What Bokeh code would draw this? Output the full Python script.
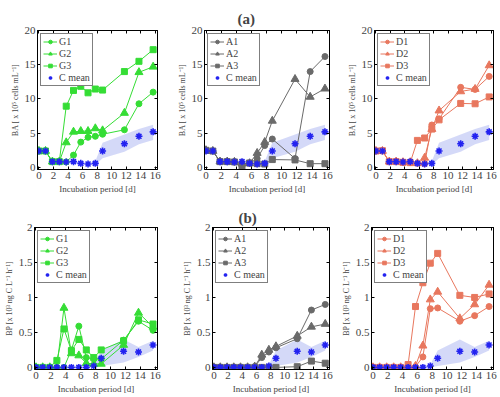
from bokeh.plotting import figure
from bokeh.layouts import column, row
from bokeh.models import Range1d, FixedTicker, Legend, LinearAxis
from bokeh.embed import file_html
from bokeh.resources import INLINE

# ---------------- data ----------------
t = [0, 0.9, 1.85, 2.8, 3.75, 4.75, 5.75, 6.75, 7.75, 8.75, 11.75, 13.75, 15.7]

# bacterial abundance (x 10^5 cells/mL)
G1_BA = [2.4, 2.4, 0.85, 0.85, 0.8, 1.8, 3.7, 4.4, 4.55, 4.85, 5.5, 9.3, 11.0]
G2_BA = [2.4, 2.4, 0.85, 0.85, 3.65, 5.2, 5.3, 5.3, 5.7, 5.4, 7.95, 13.9, 14.7]
G3_BA = [2.4, 2.4, 0.85, 0.85, 8.95, 11.25, 11.85, 10.9, 11.45, 11.3, 14.0, 15.5, 17.2]
A1_BA = [2.5, 2.4, 0.85, 0.85, 0.8, 0.55, 0.6, 1.3, 3.2, 4.15, 1.3, 14.0, 16.2]
A2_BA = [2.5, 2.4, 0.85, 0.85, 0.8, 0.55, 0.6, 2.1, 3.7, 6.8, 12.9, 10.3, 11.5]
A3_BA = [2.5, 2.4, 0.85, 0.85, 0.8, 0.05, 0.65, 0.55, 0.5, 1.15, 1.1, 0.55, 0.55]
D1_BA = [2.4, 2.4, 0.85, 0.85, 0.75, 0.75, 0.6, 0.55, 6.2, 7.1, 11.7, 11.4, 13.3]
D2_BA = [2.4, 2.4, 0.85, 0.85, 0.75, 0.75, 0.6, 1.4, 5.6, 8.3, 11.1, 11.45, 14.9]
D3_BA = [2.4, 2.45, 0.85, 0.85, 0.75, 0.7, 3.95, 4.3, 5.6, 6.95, 9.35, 9.3, 10.3]
C_BA = [2.4, 2.4, 0.85, 0.85, 0.8, 0.85, 0.6, 0.5, 0.6, 2.4, 3.45, 4.55, 5.2]
C_BA_lo = [2.35, 2.35, 0.8, 0.8, 0.75, 0.8, 0.55, 0.45, 0.4, 1.35, 2.3, 3.4, 4.0]
C_BA_hi = [2.45, 2.45, 0.9, 0.9, 0.85, 0.9, 0.65, 0.55, 0.9, 3.6, 4.8, 5.6, 6.25]

# bacterial production (x 10^3 ng C/L/h)
G1_BP = [0, 0, 0, 0, 0.0, 0.25, 0.59, 0.14, 0.12, 0.12, 0.39, 0.66, 0.53]
G2_BP = [0, 0, 0, 0, 0.85, 0.2, 0.17, 0.06, 0.05, 0.05, 0.32, 0.78, 0.58]
G3_BP = [0, 0, 0, 0.1, 0.55, 0.24, 0.4, 0.25, 0.14, 0.25, 0.38, 0.68, 0.62]
A1_BP = [0, 0, 0, 0, 0, 0, 0.01, 0.14, 0.22, 0.28, 0.41, 0.82, 0.9]
A2_BP = [0, 0, 0, 0, 0, 0, 0.01, 0.18, 0.25, 0.3, 0.45, 0.58, 0.62]
A3_BP = [0, 0, 0, 0, 0, 0, 0, 0, 0, 0, 0.01, 0.09, 0.06]
D1_BP = [0, 0, 0, 0, 0, 0.01, 0.01, 0.15, 0.84, 0.85, 0.66, 0.74, 0.87]
D2_BP = [0, 0, 0, 0, 0, 0.01, 0.02, 0.31, 0.97, 1.08, 0.7, 0.9, 1.18]
D3_BP = [0, 0, 0, 0, 0, 0.04, 0.87, 1.21, 1.49, 1.63, 1.03, 1.0, 1.05]
C_BP = [0, 0, 0, 0, 0, 0, 0, 0, 0.02, 0.13, 0.23, 0.22, 0.32]
C_BP_lo = [0, 0, 0, 0, 0, 0, 0, 0, 0.0, 0.02, 0.07, 0.15, 0.24]
C_BP_hi = [0, 0, 0, 0, 0, 0, 0, 0, 0.04, 0.24, 0.4, 0.29, 0.38]

x_ticks = [0, 2, 4, 6, 8, 10, 12, 14, 16]
ba_ticks = [0, 5, 10, 15, 20]
bp_ticks = [0, 0.5, 1, 1.5, 2]

BA_LABEL = "BA [ x 10\u2075 cells mL\u207b\u00b9]"
BP_LABEL = "BP [x 10\u00b3 ng C L\u207b\u00b9 h\u207b\u00b9]"
X_LABEL = "Incubation period [d]"

FONT = "Liberation Serif"
GREEN = "#35dd35"
GRAY = "#6a6a6a"
SALMON = "#e8775e"
BLUE = "#2323f0"
BAND = "#c9cff6"


def style_axis(ax):
    ax.major_tick_in = 3
    ax.major_tick_out = 0
    ax.minor_tick_line_color = None
    ax.axis_line_color = "black"
    ax.major_label_text_font = FONT
    ax.major_label_text_font_size = "11px"
    ax.major_label_standoff = 2
    ax.axis_label_text_font = FONT
    ax.axis_label_text_font_style = "normal"
    ax.axis_label_standoff = 2


def make_fig(series, names, color, c_mean, c_lo, c_hi, yr, yticks, ylabel,
             width, height, bl, br, bt, bb, title=None, title_offset=0,
             title_standoff=3):
    p = figure(width=width, height=height, output_backend="svg",
               toolbar_location=None, x_range=Range1d(-0.2, 16.3),
               y_range=Range1d(*yr), min_border_left=bl, min_border_right=br,
               min_border_top=bt, min_border_bottom=bb,
               outline_line_color="black", outline_line_width=1)
    p.background_fill_color = "white"
    p.border_fill_color = "white"
    p.xgrid.visible = False
    p.ygrid.visible = False
    style_axis(p.xaxis[0])
    style_axis(p.yaxis[0])
    p.xaxis[0].ticker = FixedTicker(ticks=x_ticks)
    p.yaxis[0].ticker = FixedTicker(ticks=yticks)
    p.xaxis[0].axis_label = X_LABEL
    p.xaxis[0].axis_label_text_font_size = "9px"
    p.yaxis[0].axis_label = ylabel
    p.yaxis[0].axis_label_text_font_size = "8px"

    # box ticks on the right and top (MATLAB style)
    for loc, ticks in (("right", yticks), ("above", x_ticks)):
        ax = LinearAxis(ticker=FixedTicker(ticks=ticks))
        ax.major_tick_in = 3
        ax.major_tick_out = 0
        ax.minor_tick_line_color = None
        ax.major_label_text_font_size = "0px"
        ax.major_label_text_color = None
        ax.major_label_standoff = 0
        ax.axis_line_color = "black"
        p.add_layout(ax, loc)

    p.varea(x=t, y1=c_lo, y2=c_hi, fill_color=BAND, fill_alpha=0.8)

    markers = ["circle", "triangle", "square"]
    sizes = [6, 8, 6]
    items = []
    for ys, name, mk, sz in zip(series, names, markers, sizes):
        l = p.line(t, ys, line_color=color, line_width=1)
        s = p.scatter(t, ys, marker=mk, size=sz, fill_color=color,
                      line_color=color)
        items.append((name, [l, s]))
    c = p.scatter(t, c_mean, marker="asterisk", size=7, line_color=BLUE,
                  line_width=1.6)
    items.append(("C mean", [c]))
    leg = Legend(items=items, location="top_left")
    leg.label_text_font = FONT
    leg.label_text_font_size = "10px"
    leg.glyph_width = 14
    leg.glyph_height = 9
    leg.label_height = 9
    leg.label_standoff = 2
    leg.spacing = 1
    leg.padding = 2
    leg.margin = 3
    leg.border_line_color = "black"
    leg.border_line_width = 1
    leg.background_fill_alpha = 1
    p.add_layout(leg, "center")

    if title:
        p.title.text = title
        p.title.text_font = FONT
        p.title.text_font_size = "15px"
        p.title.text_font_style = "bold"
        p.title.align = "left"
        p.title.offset = title_offset
        p.title.standoff = title_standoff
    return p


# row 1: frame top 30, height 139 ; row 2: frame top 227, height 146
p1 = make_fig([G1_BA, G2_BA, G3_BA], ["G1", "G2", "G3"], GREEN, C_BA, C_BA_lo, C_BA_hi,
              (-0.3, 20), ba_ticks, BA_LABEL, 165, 197, 37, 8, 30, 28)
p2 = make_fig([A1_BA, A2_BA, A3_BA], ["A1", "A2", "A3"], GRAY, C_BA, C_BA_lo, C_BA_hi,
              (-0.3, 20), ba_ticks, BA_LABEL, 168, 197, 39, 4, 30, 28,
              title="(a)", title_offset=33, title_standoff=7)
p3 = make_fig([D1_BA, D2_BA, D3_BA], ["D1", "D2", "D3"], SALMON, C_BA, C_BA_lo, C_BA_hi,
              (-0.3, 20), ba_ticks, BA_LABEL, 166, 197, 41, 6, 30, 28)

p4 = make_fig([G1_BP, G2_BP, G3_BP], ["G1", "G2", "G3"], GREEN, C_BP, C_BP_lo, C_BP_hi,
              (-0.03, 2), bp_ticks, BP_LABEL, 165, 199, 34, 8, 30, 23)
p5 = make_fig([A1_BP, A2_BP, A3_BP], ["A1", "A2", "A3"], GRAY, C_BP, C_BP_lo, C_BP_hi,
              (-0.03, 2), bp_ticks, BP_LABEL, 168, 199, 47, 4, 30, 23,
              title="(b)", title_offset=26, title_standoff=4)
p6 = make_fig([D1_BP, D2_BP, D3_BP], ["D1", "D2", "D3"], SALMON, C_BP, C_BP_lo, C_BP_hi,
              (-0.03, 2), bp_ticks, BP_LABEL, 166, 199, 38, 6, 30, 23)

layout = column(row(p1, p2, p3, spacing=0), row(p4, p5, p6, spacing=0), spacing=0)

open("out.html", "w").write(file_html(layout, INLINE))
